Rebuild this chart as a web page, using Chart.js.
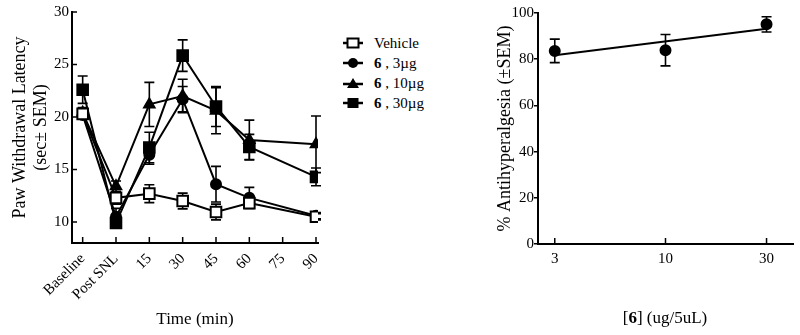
<!DOCTYPE html>
<html>
<head>
<meta charset="utf-8">
<script src="https://cdn.jsdelivr.net/npm/chart.js@4/dist/chart.umd.min.js"></script>
<style>
body { margin: 0; background: #fff; width: 800px; height: 335px; position: relative; overflow: hidden; font-family: "Liberation Serif", serif; color: #000; }
#left { position: absolute; left: 0; top: 0; }
#right { position: absolute; left: 440px; top: 0; }
#legend { position: absolute; left: 343px; top: 33px; font-size: 15px; }
.row { display: flex; align-items: center; height: 20px; white-space: nowrap; }
.row svg { margin-right: 11px; }
#doseTitle { position: absolute; left: 570px; width: 190px; top: 308px; text-align: center; font-size: 17px; }
</style>
</head>
<body>
<canvas id="left" width="330" height="335"></canvas>
<canvas id="right" width="360" height="335"></canvas>
<div id="legend">
  <div class="row"><svg width="20" height="12"><line x1="0" y1="6" x2="20" y2="6" stroke="#000" stroke-width="2.5"/><rect x="4.5" y="1.5" width="11" height="9" fill="#fff" stroke="#000" stroke-width="2"/></svg>Vehicle</div>
  <div class="row"><svg width="20" height="12"><line x1="0" y1="6" x2="20" y2="6" stroke="#000" stroke-width="2.5"/><circle cx="10" cy="6" r="5" fill="#000"/></svg><b>6</b>&nbsp;, 3µg</div>
  <div class="row"><svg width="20" height="12"><line x1="0" y1="7" x2="20" y2="7" stroke="#000" stroke-width="2.5"/><polygon points="10,1 16,11 4,11" fill="#000"/></svg><b>6</b>&nbsp;, 10µg</div>
  <div class="row"><svg width="20" height="12"><line x1="0" y1="6" x2="20" y2="6" stroke="#000" stroke-width="2.5"/><rect x="4.5" y="1" width="11" height="10" fill="#000"/></svg><b>6</b>&nbsp;, 30µg</div>
</div>
<div id="doseTitle">[<b>6</b>] (ug/5uL)</div>
<script>
// time course (left panel)
const timeLabels = ['Baseline', 'Post SNL', '15', '30', '45', '60', '75', '90'];
const vehicle    = [20.3, 12.3, 12.7, 12.0, 10.95, 11.8, null, 10.5];
const vehicleSem = [0.4, 0.6, 0.85, 0.75, 0.75, 0.4, null, 0.3];
const dose3      = [20.2, 10.5, 16.4, 21.7, 13.6, 12.3, null, 10.6];
const dose3Sem   = [0.4, 0.8, 0.9, 1.2, 1.7, 1.0, null, 0.3];
const dose10     = [20.4, 13.4, 21.2, 22.0, 20.6, 17.8, null, 17.4];
const dose10Sem  = [0.5, 0.5, 2.1, 1.6, 2.2, 1.9, null, 2.7];
const dose30     = [22.6, 9.9, 17.1, 25.85, 21.0, 17.15, null, 14.3];
const dose30Sem  = [1.3, 0.5, 1.45, 1.5, 1.9, 1.2, null, 0.85];
const latencyTicks = [10, 15, 20, 25, 30];

// dose response (right panel)
const doses = [3, 10, 30];
const antiHyper = [83.6, 83.9, 95.1];
const antiHyperSem = [5.1, 6.8, 3.3];
const fitDoses = [3, 30];
const fitValues = [81.7, 93.2];

Chart.defaults.font.family = '"Liberation Serif", serif';
Chart.defaults.font.size = 15;
Chart.defaults.color = '#000';

function toPoints(xs, ys) {
  let pts = [];
  for (let i = 0; i < ys.length; i++) {
    if (ys[i] != null) pts.push({x: xs[i], y: ys[i]});
  }
  return pts;
}

// error bars + inward tick marks
const extras = {
  id: 'extras',
  beforeDatasetsDraw(chart, args, opts) {
    const ctx = chart.ctx;
    const xs = chart.scales.x, ys = chart.scales.y;
    ctx.save();
    ctx.strokeStyle = '#000';
    ctx.lineWidth = 1.6;
    chart.data.datasets.forEach(ds => {
      if (!ds.sem) return;
      ds.data.forEach((p, i) => {
        const e = ds.sem[i];
        if (!e) return;
        const px = xs.getPixelForValue(p.x);
        const top = ys.getPixelForValue(p.y + e);
        const bot = ys.getPixelForValue(p.y - e);
        ctx.beginPath();
        ctx.moveTo(px, top); ctx.lineTo(px, bot);
        ctx.moveTo(px - 5, top); ctx.lineTo(px + 5, top);
        ctx.moveTo(px - 5, bot); ctx.lineTo(px + 5, bot);
        ctx.stroke();
      });
    });
    ctx.lineWidth = 1.5;
    const a = chart.chartArea;
    if (opts.xIn) {
      xs.ticks.forEach(t => {
        const px = xs.getPixelForValue(t.value);
        ctx.beginPath(); ctx.moveTo(px, a.bottom); ctx.lineTo(px, a.bottom - 6); ctx.stroke();
      });
    }
    if (opts.yIn) {
      ys.ticks.forEach(t => {
        const py = ys.getPixelForValue(t.value);
        ctx.beginPath(); ctx.moveTo(a.left, py); ctx.lineTo(a.left + 5, py); ctx.stroke();
      });
    }
    ctx.restore();
  }
};

const lineStyle = {
  borderColor: '#000',
  borderWidth: 2,
  pointBorderColor: '#000',
  pointBorderWidth: 2,
  pointBackgroundColor: '#000',
  tension: 0
};

new Chart(document.getElementById('left'), {
  type: 'line',
  data: {
    datasets: [
      Object.assign({}, lineStyle, { label: 'Vehicle', data: toPoints([0,1,2,3,4,5,6,7], vehicle), sem: vehicleSem.filter(v => v != null),
        pointStyle: 'rect', pointRadius: 7.5, pointBackgroundColor: '#fff' }),
      Object.assign({}, lineStyle, { label: '6, 3µg', data: toPoints([0,1,2,3,4,5,6,7], dose3), sem: dose3Sem.filter(v => v != null),
        pointStyle: 'circle', pointRadius: 5 }),
      Object.assign({}, lineStyle, { label: '6, 10µg', data: toPoints([0,1,2,3,4,5,6,7], dose10), sem: dose10Sem.filter(v => v != null),
        pointStyle: 'triangle', pointRadius: 6 }),
      Object.assign({}, lineStyle, { label: '6, 30µg', data: toPoints([0,1,2,3,4,5,6,7], dose30), sem: dose30Sem.filter(v => v != null),
        pointStyle: 'rect', pointRadius: 7.5 })
    ]
  },
  options: {
    responsive: false,
    animation: false,
    layout: { padding: { top: 12, right: 12, bottom: 1, left: 0 } },
    plugins: { legend: { display: false }, tooltip: { enabled: false }, extras: { xIn: true, yIn: true } },
    scales: {
      x: {
        type: 'linear', min: -0.32, max: 7.06,
        afterBuildTicks: s => { s.ticks = timeLabels.map((_, i) => ({value: i})); },
        afterFit: s => { s.height = 91; s.paddingLeft = 0; s.paddingRight = 0; },
        grid: { display: false, drawTicks: false },
        border: { display: true, color: '#000', width: 2 },
        ticks: { autoSkip: false, minRotation: 45, maxRotation: 45, padding: 7, callback: v => timeLabels[v] },
        title: { display: true, text: 'Time (min)', font: { size: 17 }, padding: { top: 0, bottom: 4 } }
      },
      y: {
        min: 8, max: 30,
        afterBuildTicks: s => { s.ticks = latencyTicks.map(v => ({value: v})); },
        afterFit: s => { s.width = 72; s.paddingTop = 0; s.paddingBottom = 0; },
        grid: { display: false, drawTicks: false },
        border: { display: true, color: '#000', width: 2 },
        ticks: { padding: 3 },
        title: { display: true, text: ['Paw Withdrawal Latency', '(sec± SEM)'], font: { size: 18 }, padding: { top: 9, bottom: 0 } }
      }
    }
  },
  plugins: [extras]
});

new Chart(document.getElementById('right'), {
  type: 'line',
  data: {
    datasets: [
      Object.assign({}, lineStyle, { label: 'Antihyperalgesia', data: toPoints(doses, antiHyper), sem: antiHyperSem,
        showLine: false, pointStyle: 'circle', pointRadius: 5 }),
      Object.assign({}, lineStyle, { label: 'Fit', data: toPoints(fitDoses, fitValues), pointRadius: 0 })
    ]
  },
  options: {
    responsive: false,
    animation: false,
    layout: { padding: { top: 13, right: 7, bottom: 0, left: 0 } },
    plugins: { legend: { display: false }, tooltip: { enabled: false }, extras: { xIn: true, yIn: false } },
    scales: {
      x: {
        type: 'logarithmic', min: 2.5, max: 40,
        afterBuildTicks: s => { s.ticks = doses.map(v => ({value: v})); },
        afterFit: s => { s.height = 91; s.paddingLeft = 0; s.paddingRight = 0; },
        grid: { display: false, drawTicks: false },
        border: { display: true, color: '#000', width: 2 },
        ticks: { padding: 6, callback: v => String(v) }
      },
      y: {
        min: 0, max: 100,
        ticks: { stepSize: 20, padding: 0 },
        afterFit: s => { s.width = 98; s.paddingTop = 0; s.paddingBottom = 0; },
        grid: { display: true, drawOnChartArea: false, drawTicks: true, tickLength: 4, color: '#000', lineWidth: 1.5 },
        border: { display: true, color: '#000', width: 2 },
        title: { display: true, text: '% Antihyperalgesia (±SEM)', font: { size: 18 }, padding: { top: 54, bottom: 0 } }
      }
    }
  },
  plugins: [extras]
});
</script>
</body>
</html>
